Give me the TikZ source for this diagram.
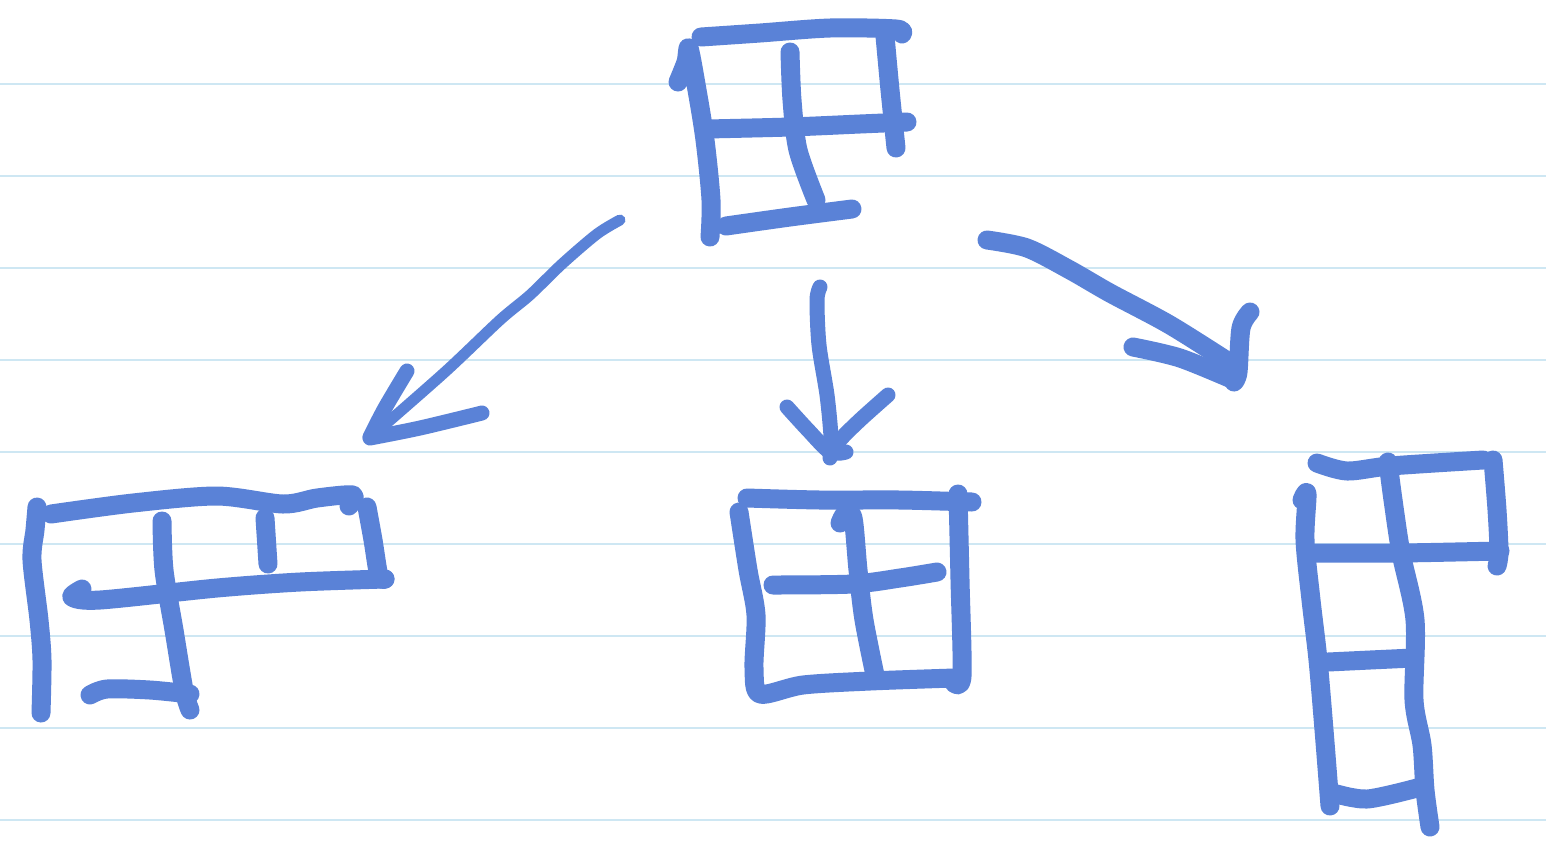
\documentclass[tikz,border=0pt]{standalone}
\begin{document}
\begin{tikzpicture}[x=0.5pt,y=-0.5pt,
  ink/.style={draw=inkblue,line width=9.5pt,line cap=round,line join=round},
  thinink/.style={draw=inkblue,line width=5.5pt,line cap=round,line join=round},
  midink/.style={draw=inkblue,line width=7.5pt,line cap=round,line join=round},
  rule/.style={draw=rulecol,line width=1.2pt},
  every plot/.style={smooth,tension=0.5}]
\definecolor{inkblue}{RGB}{90,130,215}
\definecolor{rulecol}{RGB}{206,231,243}
\useasboundingbox[fill=white] (0,0) rectangle (1546,858);

% ruled paper
\foreach \yy in {84,176,268,360,452,544,636,728,820}
  \draw[rule] (0,\yy) -- (1546,\yy);

% ---- top grid (2x2 square) ----
\draw[ink] plot coordinates {(701,37) (760,33) (830,28) (896,29) (902,34)};
\draw[ink] plot coordinates {(678,82) (686,62) (689,48) (697,90) (705,140) (711,200) (710,237)};
\draw[ink] plot coordinates {(885,36) (890,90) (896,148)};
\draw[ink] plot coordinates {(707,129) (790,127) (860,124) (907,122)};
\draw[ink] plot coordinates {(790,52) (792,100) (798,150) (816,200)};
\draw[ink] plot coordinates {(726,226) (790,217) (852,209)};

% ---- arrow to the left ----
\draw[thinink] plot coordinates {(620,220) (597,234) (562,264) (530,295) (500,320) (445,372) (372,436)};
\draw[midink] plot coordinates {(407,371) (385,408) (370,437)};
\draw[midink] plot coordinates {(370,438) (420,428) (482,413)};

% ---- arrow straight down ----
\draw[midink] plot coordinates {(820,287) (817,300) (819,345) (827,395) (831,437) (830,458)};
\draw[midink] plot coordinates {(787,407) (808,430) (830,452) (846,452)};
\draw[midink] plot coordinates {(888,395) (860,420) (840,440) (832,454)};

% ---- arrow to the right ----
\draw[ink] plot coordinates {(987,240) (1027,248) (1070,270) (1110,293) (1170,325) (1235,366)};
\draw[ink] plot coordinates {(1250,312) (1241,328) (1238,372) (1234,382)};
\draw[ink] plot coordinates {(1133,347) (1180,358) (1234,380)};

% ---- lower left (L-shaped piece) ----
\draw[ink] plot coordinates {(37,507) (35,530) (32,560) (39,620) (42,660) (41,713)};
\draw[ink] plot coordinates {(51,514) (133,503) (217,496) (283,504) (317,498) (353,495) (349,506)};
\draw[ink] plot coordinates {(367,507) (373,540) (379,576) (385,579)};
\draw[ink] (265,518) -- (268,564);
\draw[ink] plot coordinates {(385,579) (300,582) (217,588) (100,600) (72,597) (82,589)};
\draw[ink] plot coordinates {(162,521) (164,570) (174,630) (184,690) (190,710)};
\draw[ink] plot coordinates {(90,695) (107,689) (150,690) (190,694)};

% ---- lower middle (2x2 square) ----
\draw[ink] plot coordinates {(747,498) (820,500) (900,500) (972,502)};
\draw[ink] plot coordinates {(958,494) (960,580) (962,676) (954,683)};
\draw[ink] plot coordinates {(739,512) (748,570) (756,615) (754,668) (760,694) (803,685) (870,681) (954,678)};
\draw[ink] plot coordinates {(773,585) (853,584) (900,578) (937,572)};
\draw[ink] plot coordinates {(840,523) (845,514) (853,518) (858,570) (864,620) (876,680)};

% ---- lower right (tall piece) ----
\draw[ink] plot coordinates {(1317,463) (1347,471) (1390,466) (1483,460)};
\draw[ink] plot coordinates {(1493,460) (1497,510) (1499,552) (1497,566)};
\draw[ink] plot coordinates {(1302,500) (1307,494) (1305,540) (1311,600) (1318,660) (1324,730) (1330,806)};
\draw[ink] plot coordinates {(1313,553) (1400,553) (1500,551)};
\draw[ink] plot coordinates {(1388,462) (1393,500) (1401,553) (1415,620) (1414,700) (1422,745) (1425,790) (1430,827)};
\draw[ink] plot coordinates {(1328,662) (1370,660) (1413,658)};
\draw[ink] plot coordinates {(1333,793) (1367,799) (1417,788)};
\end{tikzpicture}
\end{document}
